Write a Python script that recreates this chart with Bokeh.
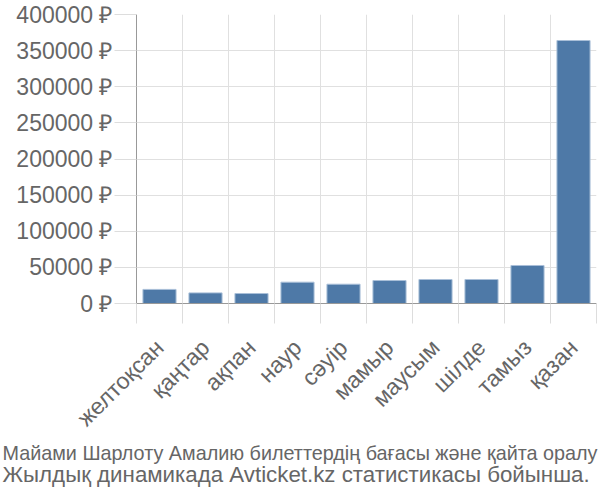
from math import pi
from bokeh.plotting import figure
from bokeh.models import FixedTicker, Title, Range1d
from bokeh.embed import file_html
from bokeh.resources import INLINE

months = ["желтоқсан", "қаңтар", "ақпан", "наур", "сәуір",
          "мамыр", "маусым", "шілде", "тамыз", "қазан"]
prices = [19500, 14700, 13800, 29500, 26700, 31800, 33200, 33200, 52600, 364000]
y_ticks = [0, 50000, 100000, 150000, 200000, 250000, 300000, 350000, 400000]
y_tick_labels = ["0 ₽", "50000 ₽", "100000 ₽", "150000 ₽", "200000 ₽",
                 "250000 ₽", "300000 ₽", "350000 ₽", "400000 ₽"]
caption_lines = ["Майами Шарлоту Амалию билеттердің бағасы және қайта оралу",
                 "Жылдық динамикада Avticket.kz статистикасы бойынша."]
caption_sizes = ["19.8px", "22.3px"]

FONT = "Liberation Sans"
TXT = "#666666"

p = figure(width=600, height=500, x_range=Range1d(0, len(months)),
           y_range=Range1d(0, 400000), output_backend="svg", toolbar_location=None,
           min_border_left=136, min_border_right=4, min_border_top=14,
           min_border_bottom=197)
p.outline_line_color = None
p.background_fill_color = "white"
p.border_fill_color = "white"

centers = [i + 0.5 for i in range(len(months))]
p.vbar(x=centers, top=prices, width=0.72, fill_color="#4e79a7",
       line_color="#a9bfd8", line_width=1)

xt = FixedTicker(ticks=centers, minor_ticks=list(range(len(months) + 1)))
p.xaxis.ticker = xt
p.xgrid.ticker = xt
p.xaxis.major_label_overrides = {c: m for c, m in zip(centers, months)}
p.xaxis.major_tick_line_color = None
p.xaxis.major_tick_out = 0
p.xaxis.major_tick_in = 0
p.xaxis.minor_tick_out = 20
p.xaxis.minor_tick_in = 0
p.xaxis.minor_tick_line_color = "#dddddd"
p.xaxis.major_label_orientation = pi / 4
p.xaxis.major_label_standoff = 20
p.xaxis.major_label_text_font = FONT
p.xaxis.major_label_text_font_size = "23px"
p.xaxis.major_label_text_color = TXT
p.xaxis.axis_line_color = "#999999"
p.xgrid.grid_line_color = None
p.xgrid.minor_grid_line_color = "#e0e0e0"

yt = FixedTicker(ticks=y_ticks, minor_ticks=[])
p.yaxis.ticker = yt
p.ygrid.ticker = yt
p.yaxis.major_label_overrides = {v: s for v, s in zip(y_ticks, y_tick_labels)}
p.yaxis.major_tick_out = 22
p.yaxis.major_tick_in = 0
p.yaxis.major_tick_line_color = "#dddddd"
p.yaxis.minor_tick_line_color = None
p.yaxis.major_label_standoff = 2
p.yaxis.major_label_text_font = FONT
p.yaxis.major_label_text_font_size = "23px"
p.yaxis.major_label_text_color = TXT
p.yaxis.axis_line_color = "#999999"
p.ygrid.grid_line_color = "#e0e0e0"

for line, size, so in zip(caption_lines, caption_sizes, [-8, 0]):
    p.add_layout(Title(text=line, align="left", offset=-134,
                       text_font=FONT, text_font_size=size, text_color=TXT,
                       text_font_style="normal", text_line_height=1.0,
                       standoff=so), "below")

open("out.html", "w").write(file_html(p, INLINE))
